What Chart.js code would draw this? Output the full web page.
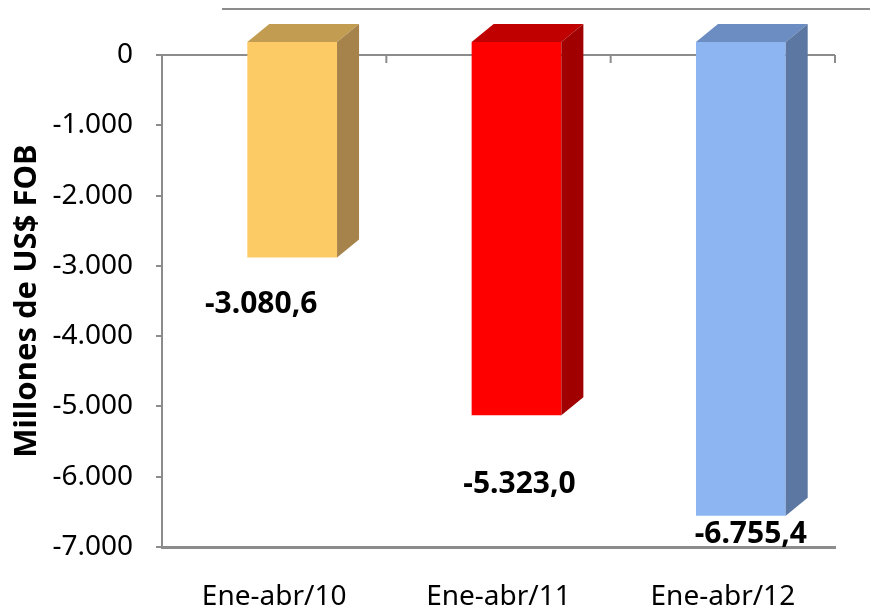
<!DOCTYPE html>
<html>
<head>
<meta charset="utf-8">
<script src="https://cdn.jsdelivr.net/npm/chart.js@4.4.0/dist/chart.umd.min.js"></script>
<style>
  html, body { margin: 0; padding: 0; background: #fff; }
  #wrap { width: 883px; height: 613px; }
</style>
</head>
<body>
<div id="wrap"><canvas id="graficaBalanza"></canvas></div>
<script>
// datos
const periodos = ['Ene-abr/10', 'Ene-abr/11', 'Ene-abr/12'];
const saldo = [-3080.6, -5323.0, -6755.4];
const ticksY = [0, -1000, -2000, -3000, -4000, -5000, -6000, -7000];

// estilo
const colFrente = ['#FCCB66', '#FF0000', '#8DB5F2'];
const colTapa = ['#C29C50', '#C00000', '#6C8DC2'];
const colLado = ['#A6834A', '#A00000', '#5B77A2'];
const desplLabel = [[-31, 55], [3, 78], [10, 27]]; // px, linea base de la etiqueta respecto al extremo de la barra
const fuente = "'Noto Sans', sans-serif";

const fmt = (v, d) => v.toLocaleString('de-DE', { minimumFractionDigits: d, maximumFractionDigits: d });

// barras 3d: la cara frontal se corre hacia arriba/derecha respecto al plano del eje
const barras3d = {
    id: 'barras3d',
    beforeDatasetsDraw(chart) {
        const ctx = chart.ctx;
        ctx.save();
        ctx.translate(18, -14);
    },
    afterDatasetsDraw(chart) {
        const ctx = chart.ctx;
        const meta = chart.getDatasetMeta(0);
        const prof = 22, alto = 18;
        meta.data.forEach((b, i) => {
            const x1 = b.x - b.width / 2, x2 = b.x + b.width / 2;
            const yTop = b.base, yBot = b.y;
            // tapa
            ctx.fillStyle = colTapa[i];
            ctx.beginPath();
            ctx.moveTo(x1, yTop);
            ctx.lineTo(x1 + prof, yTop - alto);
            ctx.lineTo(x2 + prof, yTop - alto);
            ctx.lineTo(x2, yTop);
            ctx.closePath();
            ctx.fill();
            // lado
            ctx.fillStyle = colLado[i];
            ctx.beginPath();
            ctx.moveTo(x2, yTop);
            ctx.lineTo(x2 + prof, yTop - alto);
            ctx.lineTo(x2 + prof, yBot - alto);
            ctx.lineTo(x2, yBot);
            ctx.closePath();
            ctx.fill();
        });
        ctx.restore();

        // etiquetas de datos
        ctx.save();
        ctx.font = "bold 30px " + fuente;
        ctx.fillStyle = '#000';
        ctx.textAlign = 'center';
        ctx.textBaseline = 'alphabetic';
        meta.data.forEach((b, i) => {
            ctx.fillText(fmt(saldo[i], 1), b.x + 18 + desplLabel[i][0], b.y - 14 + desplLabel[i][1]);
        });
        ctx.restore();
    },
    afterDraw(chart) {
        const ctx = chart.ctx;
        const a = chart.chartArea;
        const x = chart.scales.x;
        const y0 = chart.scales.y.getPixelForValue(0);
        ctx.save();
        ctx.strokeStyle = '#8c8c8c';
        ctx.lineWidth = 2;
        // marcas de categoria sobre la linea del cero
        for (let i = 0; i <= periodos.length; i++) {
            const px = x.getPixelForValue(i - 0.5);
            ctx.beginPath();
            ctx.moveTo(px, y0);
            ctx.lineTo(px, y0 + 8);
            ctx.stroke();
        }
        // borde superior de la pared del fondo
        ctx.beginPath();
        ctx.moveTo(a.left + 60, a.top - 46);
        ctx.lineTo(a.right + 35, a.top - 46);
        ctx.stroke();
        ctx.restore();
    }
};

new Chart(document.getElementById('graficaBalanza').getContext('2d'), {
    type: 'bar',
    data: {
        labels: periodos,
        datasets: [{
            label: 'Saldo',
            data: saldo,
            backgroundColor: colFrente,
            borderWidth: 0,
            barPercentage: 0.4,
            categoryPercentage: 1
        }]
    },
    options: {
        responsive: true,
        maintainAspectRatio: false,
        animation: false,
        layout: { padding: { top: 55, right: 48, left: 0, bottom: 0 } },
        plugins: { legend: { display: false }, tooltip: { enabled: false } },
        scales: {
            x: {
                grid: { display: true, color: 'transparent', drawTicks: false },
                border: { display: true, color: '#8c8c8c', width: 3 },
                ticks: { color: '#000', padding: 33, font: { family: fuente, size: 28 } },
                afterFit: s => { s.height = 66; }
            },
            y: {
                min: -7000,
                max: 0,
                afterBuildTicks: s => { s.ticks = ticksY.map(v => ({ value: v })); },
                grid: {
                    color: c => (c.tick && c.tick.value === 0 ? '#8c8c8c' : 'transparent'),
                    lineWidth: 2,
                    tickColor: '#8c8c8c',
                    tickLength: 6
                },
                border: { display: true, color: '#8c8c8c', width: 2 },
                ticks: {
                    color: '#000',
                    padding: 23,
                    font: { family: fuente, size: 28 },
                    callback: v => fmt(v, 0)
                },
                title: {
                    display: true,
                    text: 'Millones de US$ FOB',
                    color: '#000',
                    font: { family: fuente, size: 31, weight: 'bold' },
                    padding: { top: 9, bottom: 0 }
                },
                afterFit: s => { s.width = 162; }
            }
        }
    },
    plugins: [barras3d]
});
</script>
</body>
</html>
